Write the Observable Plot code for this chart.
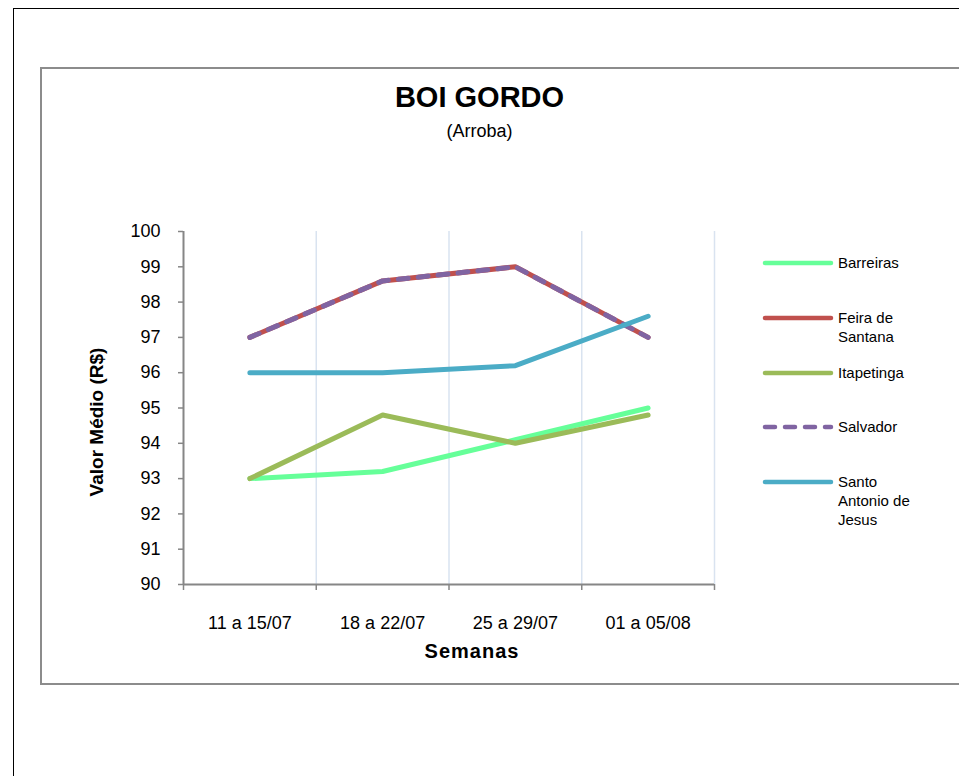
<!DOCTYPE html>
<html>
<head>
<meta charset="utf-8">
<script src="https://cdn.jsdelivr.net/npm/d3@7"></script>
<script src="https://cdn.jsdelivr.net/npm/@observablehq/plot@0.6"></script>
<style>
  body { margin: 0; background: #fff; }
  #wrap { position: relative; width: 959px; height: 776px; overflow: hidden; font-family: "Liberation Sans", Arial, sans-serif; color: #000; }
  #outer { position: absolute; left: 13px; top: 8px; width: 1000px; height: 1000px; border: 1px solid #000; box-sizing: border-box; }
  #inner { position: absolute; left: 40px; top: 67px; width: 1000px; height: 618px; border: 2px solid #8c8c8c; box-sizing: border-box; }
  #chart { position: absolute; left: 0; top: 0; }
  .title { position: absolute; left: 0; width: 959px; text-align: center; white-space: nowrap; }
  #t1 { top: 82px; font-size: 29px; line-height: 30px; font-weight: bold; }
  #t2 { top: 121px; font-size: 18px; line-height: 20px; }
  #ylab { position: absolute; left: 97px; top: 422px; transform: translate(-50%, -50%) rotate(-90deg); font-size: 19px; font-weight: bold; white-space: nowrap; }
  #xlab { position: absolute; left: 472px; top: 651px; transform: translate(-50%, -50%); font-size: 20px; font-weight: bold; letter-spacing: 1px; white-space: nowrap; }
  .leg { position: absolute; left: 762px; }
  .leg svg { position: absolute; left: 0; top: -5px; }
  .leg div { position: absolute; left: 76px; top: -10px; width: 84px; font-size: 15px; line-height: 19px; }
</style>
</head>
<body>
<div id="wrap">
  <div id="outer"></div>
  <div id="inner"></div>
  <div id="chart"></div>
  <div class="title" id="t1">BOI GORDO</div>
  <div class="title" id="t2">(Arroba)</div>
  <div id="ylab">Valor Médio (R$)</div>
  <div id="xlab">Semanas</div>
  <div id="legend"></div>
</div>
<script>
// ---- data ----
const weeks = ["11 a 15/07", "18 a 22/07", "25 a 29/07", "01 a 05/08"];
const barreiras = [93.0, 93.2, 94.1, 95.0];
const feiraDeSantana = [97.0, 98.6, 99.0, 97.0];
const itapetinga = [93.0, 94.8, 94.0, 94.8];
const salvador = [97.0, 98.6, 99.0, 97.0];
const santoAntonioDeJesus = [96.0, 96.0, 96.2, 97.6];
const seriesNames = ["Barreiras", "Feira de Santana", "Itapetinga", "Salvador", "Santo Antonio de Jesus"];
const seriesValues = [barreiras, feiraDeSantana, itapetinga, salvador, santoAntonioDeJesus];
const seriesColors = ["#66ff99", "#c0504d", "#9bbb59", "#8064a2", "#4bacc6"];
const seriesDashed = [false, false, false, true, false];
const yTicks = [90, 91, 92, 93, 94, 95, 96, 97, 98, 99, 100];

// ---- rows ----
const rows = seriesNames.map((name, s) =>
  seriesValues[s].map((v, i) => ({ series: name, week: weeks[i], x: i + 0.5, value: v }))
);
const boundaries = d3.range(0, weeks.length + 1);

const lineMarks = rows.map((r, s) =>
  Plot.line(r, {
    x: "x", y: "value",
    stroke: seriesColors[s], strokeWidth: 5,
    strokeLinecap: "round", strokeLinejoin: "round",
    strokeDasharray: seriesDashed[s] ? "10,10" : null
  })
);

const chart = Plot.plot({
  width: 959,
  height: 776,
  marginLeft: 183,
  marginRight: 245,
  marginTop: 231,
  marginBottom: 192,
  style: { fontFamily: "Liberation Sans, Arial, sans-serif", fontSize: "18px", color: "#000", background: "transparent" },
  x: { type: "linear", domain: [0, weeks.length], label: null },
  y: { type: "linear", domain: [90, 100], label: null },
  marks: [
    Plot.ruleX(boundaries.slice(1), { stroke: "#d9e3f0", strokeWidth: 1.5 }),
    Plot.axisY({ ticks: yTicks, tickSize: 5, tickPadding: 18, stroke: "#868686", strokeWidth: 1.5, label: null, tickFormat: d => String(d) }),
    Plot.axisX({ ticks: boundaries, tickSize: 6, stroke: "#868686", strokeWidth: 1.5, tickFormat: () => "", label: null }),
    Plot.axisX({ ticks: weeks.map((w, i) => i + 0.5), tickSize: 0, tickPadding: 32, tickFormat: d => weeks[Math.round(d - 0.5)], label: null }),
    Plot.ruleX([0], { stroke: "#868686", strokeWidth: 2 }),
    Plot.ruleY([90], { stroke: "#868686", strokeWidth: 2 }),
    ...lineMarks
  ]
});
document.getElementById("chart").appendChild(chart);

// ---- legend ----
const legend = document.getElementById("legend");
seriesNames.forEach((name, s) => {
  const item = document.createElement("div");
  item.className = "leg";
  item.style.top = (263 + s * 54.75) + "px";
  const dash = seriesDashed[s] ? ' stroke-dasharray="10,10"' : "";
  item.innerHTML =
    `<svg width="76" height="10"><line x1="3" y1="5" x2="69" y2="5" stroke="${seriesColors[s]}" stroke-width="4.5" stroke-linecap="round"${dash}/></svg>` +
    `<div>${name}</div>`;
  legend.appendChild(item);
});
</script>
</body>
</html>
